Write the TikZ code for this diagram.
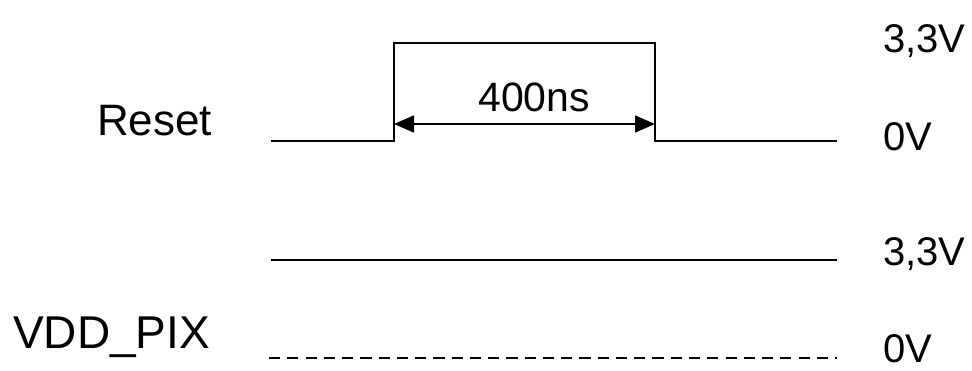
\documentclass[tikz,border=0pt]{standalone}
\usepackage{fontspec}
\setmainfont{Liberation Sans}
\usetikzlibrary{arrows.meta}
\begin{document}
\begin{tikzpicture}[x=1pt,y=-1pt,
  wave/.style={line width=1.8pt,line join=miter,line cap=butt},
  lbl/.style={inner sep=0pt,anchor=base west,font=\fontsize{44}{50}\selectfont},
  val/.style={inner sep=0pt,anchor=base west,font=\fontsize{40}{46}\selectfont},
  dim/.style={line width=1.8pt,{Triangle[length=20pt,width=17pt]}-{Triangle[length=20pt,width=17pt]}}]
\useasboundingbox (0,0) rectangle (972,370);
% Reset waveform
\coordinate (r0) at (271,141);
\coordinate (r1) at (394,141);
\coordinate (r2) at (394,43);
\coordinate (r3) at (655,43);
\coordinate (r4) at (655,141);
\coordinate (r5) at (837,141);
\draw[wave] (r0) -- (r1) -- (r2) -- (r3) -- (r4) -- (r5);
% pulse width dimension
\coordinate (a1) at (394,124);
\coordinate (a2) at (655,124);
\draw[dim] (a1) -- (a2);
\node[val,font=\fontsize{41}{46}\selectfont] (ns) at (478,111) {400ns};
% VDD_PIX lines
\coordinate (v0) at (271,260);
\coordinate (v1) at (837,260);
\draw[wave] (v0) -- (v1);
\coordinate (d0) at (269,358);
\coordinate (d1) at (837,358);
\draw[wave,dash pattern=on 11.2pt off 7.06pt] (d0) -- (d1);
% labels
\node[lbl] (reset) at (97,135) {Reset};
\node[lbl,font=\fontsize{46}{52}\selectfont] (vdd) at (13,348) {VDD\_PIX};
\node[val] (h1) at (883,52) {3,3V};
\node[val] (l1) at (883,150) {0V};
\node[val] (h2) at (883,265) {3,3V};
\node[val] (l2) at (883,362) {0V};
\end{tikzpicture}
\end{document}
